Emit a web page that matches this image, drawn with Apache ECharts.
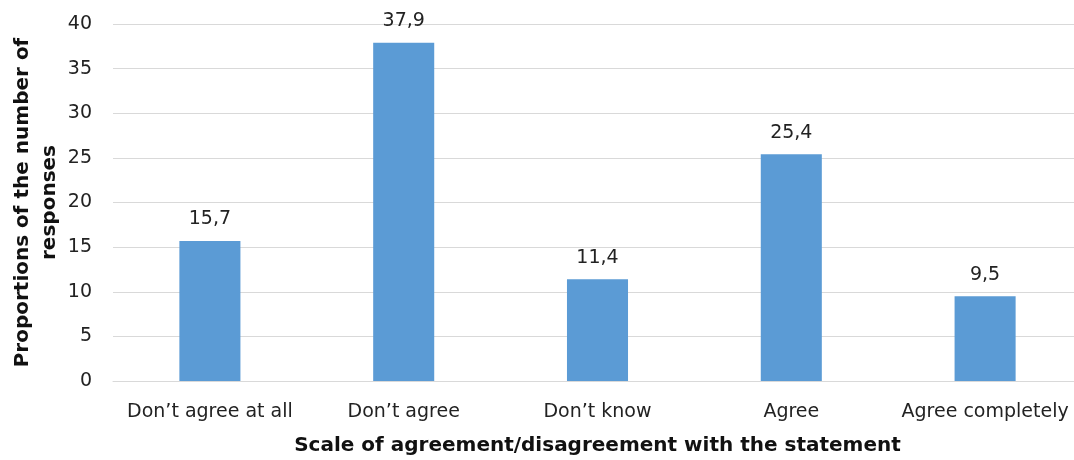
<!DOCTYPE html>
<html><head><meta charset="utf-8">
<script src="https://cdn.jsdelivr.net/npm/echarts@6/dist/echarts.min.js"></script>
<style>html,body{margin:0;padding:0;background:#fff}#c{width:1074px;height:460px}</style>
</head><body><div id="c"></div>
<script>
const categories = ["Don’t agree at all", "Don’t agree", "Don’t know", "Agree", "Agree completely"];
const values = [15.7, 37.9, 11.4, 25.4, 9.5];
const yTicks = [0, 5, 10, 15, 20, 25, 30, 35, 40];
const FONT = "DejaVu Sans";
const chart = echarts.init(document.getElementById('c'), null, {renderer: 'canvas'});
chart.setOption({
  animation: false,
  textStyle: {fontFamily: FONT},
  grid: {left: 113, right: -8, top: 24, bottom: 79, containLabel: false, outerBoundsMode: 'none'},
  xAxis: {
    type: 'category', data: categories,
    axisLine: {show: true, lineStyle: {color: '#d9d9d9', width: 1}},
    axisTick: {show: false},
    axisLabel: {color: '#222', fontSize: 19, fontFamily: FONT, margin: 22, interval: 0},
    name: 'Scale of agreement/disagreement with the statement',
    nameLocation: 'middle', nameGap: 55,
    nameTextStyle: {color: '#111', fontSize: 20, fontWeight: 'bold', fontFamily: FONT}
  },
  yAxis: {
    type: 'value', min: 0, max: 40, interval: 5,
    axisLine: {show: false}, axisTick: {show: false},
    splitLine: {lineStyle: {color: '#d9d9d9', width: 1}},
    axisLabel: {color: '#222', fontSize: 19, fontFamily: FONT, margin: 21,
      formatter: v => yTicks.includes(v) ? String(v) : ''},
    name: 'Proportions of the number of\nresponses',
    nameLocation: 'middle', nameGap: 50, nameRotate: 90, nameMoveOverlap: false,
    nameTextStyle: {color: '#111', fontSize: 20, fontWeight: 'bold', fontFamily: FONT, lineHeight: 27}
  },
  series: [{
    type: 'bar', data: values, barWidth: '31.5%',
    itemStyle: {color: '#5B9BD5'},
    label: {show: true, position: 'top', distance: 12, color: '#222', fontSize: 19, fontFamily: FONT,
      formatter: p => String(p.value).replace('.', ',')}
  }]
});
</script></body></html>
